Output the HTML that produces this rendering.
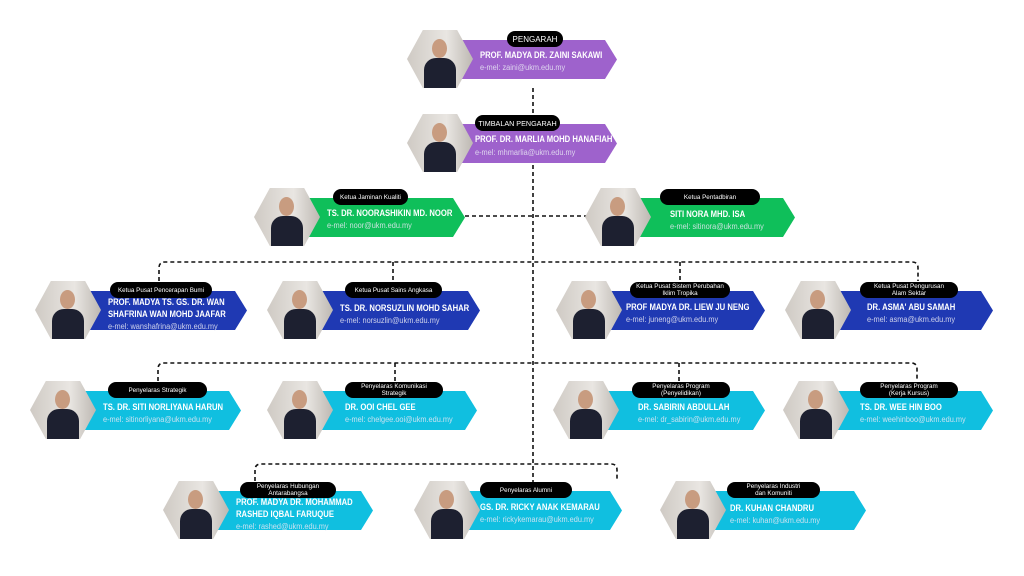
<!DOCTYPE html>
<html><head><meta charset="utf-8"><style>
body{margin:0;width:1024px;height:576px;background:#fff;position:relative;overflow:hidden;font-family:"Liberation Sans",sans-serif}
.c{position:absolute;width:400px;height:58px}
.b{position:absolute;left:50px;top:10px;height:39px;clip-path:polygon(0 0,calc(100% - 12px) 0,100% 50%,calc(100% - 12px) 100%,0 100%)}
.p{position:absolute;left:0;top:0;width:66px;height:58px;clip-path:polygon(24% 0,76% 0,100% 50%,76% 100%,24% 100%,0 50%);background:linear-gradient(90deg,#cfcac4,#e9e6e2 60%,#bdb8b2)}
.p:before{content:"";position:absolute;left:17px;top:28px;width:32px;height:40px;border-radius:12px 12px 0 0;background:#1d2030}
.p:after{content:"";position:absolute;left:25px;top:9px;width:15px;height:19px;border-radius:50%;background:#c89c80}
.pl{position:absolute;top:1px;height:16px;background:#000;color:#fff;border-radius:8px;font-size:6.3px;display:flex;align-items:center;justify-content:center;text-align:center;line-height:7px;white-space:nowrap}
.n{position:absolute;left:73px;color:#fff;font-size:9.6px;font-weight:bold;line-height:12px;white-space:nowrap;transform:scaleX(.8);transform-origin:0 0}
.e{position:absolute;left:73px;color:#e8e8f4;font-size:8px;white-space:nowrap;opacity:.85;transform:scaleX(.92);transform-origin:0 0}
.pu{background:#9e62cc}.gr{background:#0fbf5a}.bl{background:#1f39b3}.cy{background:#10bfe0}
svg{position:absolute;left:0;top:0}
</style></head><body>
<svg width="1024" height="576"><g fill="none" stroke="#111" stroke-width="1.6" stroke-dasharray="4,3">
<path d="M533 88V484"/>
<path d="M465 216H595"/>
<path d="M159 281V268q0-6 6-6H912q6 0 6 6V281"/>
<path d="M393 262V281M680 262V281"/>
<path d="M158 381V369q0-6 6-6H911q6 0 6 6V381"/>
<path d="M395 363V381M679 363V381"/>
<path d="M255 481V470q0-6 6-6H611q6 0 6 6V481"/>
</g></svg>

<div class="c" style="left:407px;top:30px"><div class="b pu" style="width:160px"></div><div class="p"></div><div class="pl" style="left:100px;width:56px;font-size:8px">PENGARAH</div><div class="n" style="top:20px">PROF. MADYA DR. ZAINI SAKAWI</div><div class="e" style="top:33px">e-mel: zaini@ukm.edu.my</div></div>

<div class="c" style="left:407px;top:114px"><div class="b pu" style="width:160px"></div><div class="p"></div><div class="pl" style="left:68px;width:85px;font-size:7.2px">TIMBALAN PENGARAH</div><div class="n" style="top:20px;left:68px">PROF. DR. MARLIA MOHD HANAFIAH</div><div class="e" style="top:34px;left:68px">e-mel: mhmarlia@ukm.edu.my</div></div>

<div class="c" style="left:254px;top:188px"><div class="b gr" style="width:161px"></div><div class="p"></div><div class="pl" style="left:79px;width:75px">Ketua Jaminan Kualiti</div><div class="n" style="top:20px">TS. DR. NOORASHIKIN MD. NOOR</div><div class="e" style="top:33px">e-mel: noor@ukm.edu.my</div></div>

<div class="c" style="left:585px;top:188px"><div class="b gr" style="width:160px"></div><div class="p"></div><div class="pl" style="left:75px;width:100px">Ketua Pentadbiran</div><div class="n" style="top:21px;left:85px">SITI NORA MHD. ISA</div><div class="e" style="top:34px;left:85px">e-mel: sitinora@ukm.edu.my</div></div>

<div class="c" style="left:35px;top:281px"><div class="b bl" style="width:162px"></div><div class="p"></div><div class="pl" style="left:75px;width:102px">Ketua Pusat Pencerapan Bumi</div><div class="n" style="top:16px">PROF. MADYA TS. GS. DR. WAN<br>SHAFRINA WAN MOHD JAAFAR</div><div class="e" style="top:41px">e-mel: wanshafrina@ukm.edu.my</div></div>

<div class="c" style="left:267px;top:281px"><div class="b bl" style="width:163px"></div><div class="p"></div><div class="pl" style="left:78px;width:97px">Ketua Pusat Sains Angkasa</div><div class="n" style="top:22px">TS. DR. NORSUZLIN MOHD SAHAR</div><div class="e" style="top:35px">e-mel: norsuzlin@ukm.edu.my</div></div>

<div class="c" style="left:556px;top:281px"><div class="b bl" style="width:159px"></div><div class="p"></div><div class="pl" style="left:74px;width:100px">Ketua Pusat Sistem Perubahan<br>Iklim Tropika</div><div class="n" style="top:21px;left:70px">PROF MADYA DR. LIEW JU NENG</div><div class="e" style="top:34px;left:70px">e-mel: juneng@ukm.edu.my</div></div>

<div class="c" style="left:785px;top:281px"><div class="b bl" style="width:158px"></div><div class="p"></div><div class="pl" style="left:75px;width:98px">Ketua Pusat Pengurusan<br>Alam Sektar</div><div class="n" style="top:21px;left:82px">DR. ASMA' ABU SAMAH</div><div class="e" style="top:34px;left:82px">e-mel: asma@ukm.edu.my</div></div>

<div class="c" style="left:30px;top:381px"><div class="b cy" style="width:161px"></div><div class="p"></div><div class="pl" style="left:78px;width:99px">Penyelaras Strategik</div><div class="n" style="top:21px">TS. DR. SITI NORLIYANA HARUN</div><div class="e" style="top:34px">e-mel: sitinorliyana@ukm.edu.my</div></div>

<div class="c" style="left:267px;top:381px"><div class="b cy" style="width:160px"></div><div class="p"></div><div class="pl" style="left:78px;width:98px">Penyelaras Komunikasi<br>Strategik</div><div class="n" style="top:21px;left:78px">DR. OOI CHEL GEE</div><div class="e" style="top:34px;left:78px">e-mel: chelgee.ooi@ukm.edu.my</div></div>

<div class="c" style="left:553px;top:381px"><div class="b cy" style="width:162px"></div><div class="p"></div><div class="pl" style="left:79px;width:98px">Penyelaras Program<br>(Penyelidikan)</div><div class="n" style="top:21px;left:85px">DR. SABIRIN ABDULLAH</div><div class="e" style="top:34px;left:85px">e-mel: dr_sabirin@ukm.edu.my</div></div>

<div class="c" style="left:783px;top:381px"><div class="b cy" style="width:160px"></div><div class="p"></div><div class="pl" style="left:77px;width:98px">Penyelaras Program<br>(Kerja Kursus)</div><div class="n" style="top:21px;left:77px">TS. DR. WEE HIN BOO</div><div class="e" style="top:34px;left:77px">e-mel: weehinboo@ukm.edu.my</div></div>

<div class="c" style="left:163px;top:481px"><div class="b cy" style="width:160px"></div><div class="p"></div><div class="pl" style="left:77px;width:96px">Penyelaras Hubungan<br>Antarabangsa</div><div class="n" style="top:16px">PROF. MADYA DR. MOHAMMAD<br>RASHED IQBAL FARUQUE</div><div class="e" style="top:41px">e-mel: rashed@ukm.edu.my</div></div>

<div class="c" style="left:414px;top:481px"><div class="b cy" style="width:158px"></div><div class="p"></div><div class="pl" style="left:66px;width:92px">Penyelaras Alumni</div><div class="n" style="top:21px;left:66px">GS. DR. RICKY ANAK KEMARAU</div><div class="e" style="top:34px;left:66px">e-mel: rickykemarau@ukm.edu.my</div></div>

<div class="c" style="left:660px;top:481px"><div class="b cy" style="width:156px"></div><div class="p"></div><div class="pl" style="left:67px;width:93px">Penyelaras Industri<br>dan Komuniti</div><div class="n" style="top:22px;left:70px">DR. KUHAN CHANDRU</div><div class="e" style="top:35px;left:70px">e-mel: kuhan@ukm.edu.my</div></div>
</body></html>
